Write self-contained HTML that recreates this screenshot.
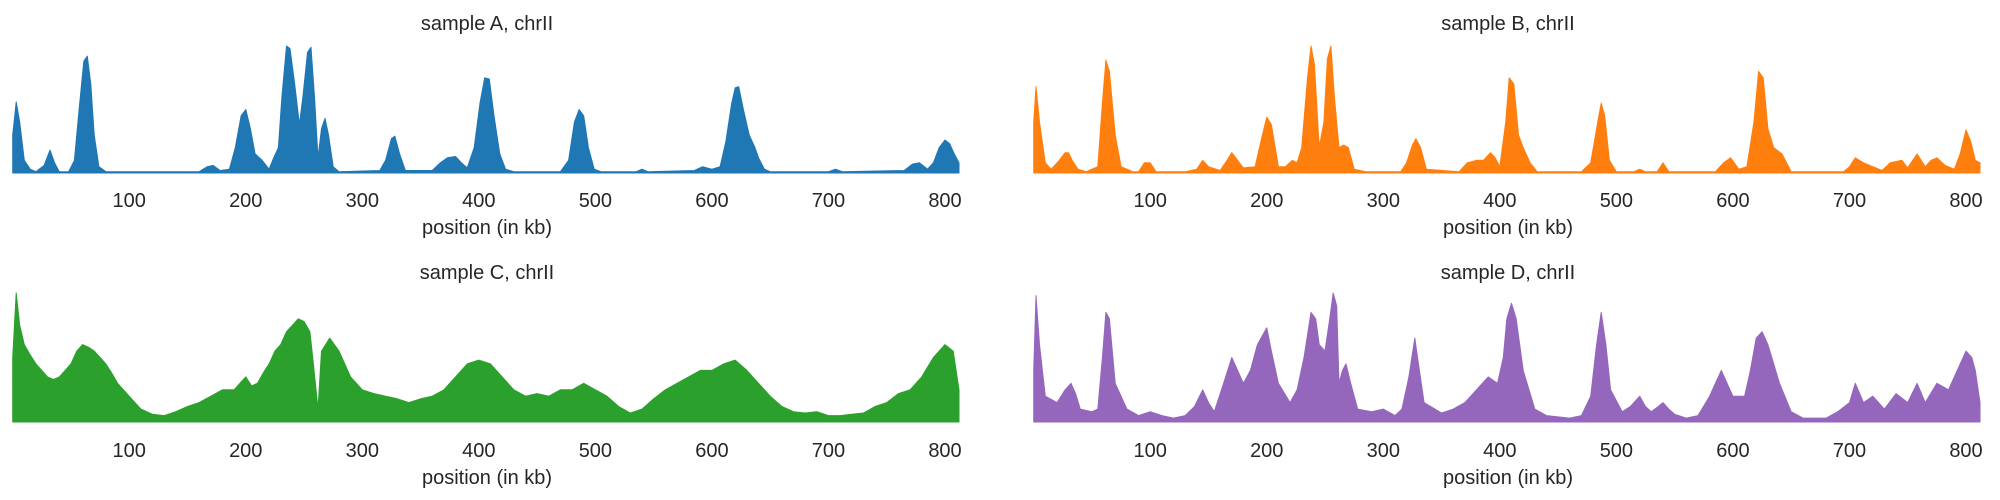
<!DOCTYPE html>
<html><head><meta charset="utf-8">
<style>
html,body{margin:0;padding:0;background:#fff;}
svg{display:block;font-family:"Liberation Sans",Arial,sans-serif;}
</style></head>
<body>
<svg id="chart" width="2000" height="500" viewBox="0 0 2000 500" xmlns="http://www.w3.org/2000/svg"></svg>
<script>
const tickValues = [100,200,300,400,500,600,700,800];
const panelTitles = ["sample A, chrII","sample B, chrII","sample C, chrII","sample D, chrII"];
const colors = ["#1f77b4","#ff7f0e","#2ca02c","#9467bd"];

const posA = [0,3,6,10,15,20,27,32,36,40,48,53,57,61,64,67,70,74,80,160,167,172,178,186,191,196,200,204,208,214,220,224,228,231,235,238,242,246,249,253,256,259,262,265,268,271,275,280,315,320,325,328,332,337,360,367,373,380,385,390,396,401,405,409,413,418,423,430,470,477,482,486,490,494,499,505,535,540,545,585,592,600,607,612,617,620,623,627,632,637,640,645,650,700,706,712,765,772,778,785,790,795,800,804,808,812];
const valA = [30,56,40,10,3,1,6,18,8,1,1,10,50,88,92,70,30,5,1,1,5,6,2,3,20,45,50,35,15,10,3,12,20,60,100,98,70,38,60,95,99,60,12,35,43,30,5,1,2,10,27,29,15,2,2,8,12,13,8,4,20,55,75,74,45,15,3,1,1,10,40,50,45,20,3,1,1,3,1,2,5,3,5,25,55,67,68,50,30,20,12,3,1,1,3,1,2,7,8,3,8,20,26,23,15,8];

const posB = [0,2,5,10,15,22,27,30,33,38,45,55,59,62,65,70,75,85,90,95,100,105,130,140,145,150,160,166,170,175,180,190,195,200,204,210,216,222,226,230,235,238,241,245,249,252,255,258,262,266,270,275,285,315,320,325,328,332,337,365,372,380,386,392,396,400,405,408,412,416,420,426,432,470,478,484,487,490,494,500,515,520,525,535,540,545,585,592,598,605,612,618,622,626,630,635,642,650,695,700,705,712,720,728,735,745,750,758,765,770,775,782,790,795,800,804,808,812];
const valB = [40,68,40,8,3,10,16,16,10,3,1,5,55,89,80,30,5,1,1,8,8,1,1,3,10,5,2,10,16,10,4,5,25,44,38,5,5,10,8,20,75,100,85,20,40,90,100,60,20,22,20,3,1,1,8,22,27,20,3,1,8,10,10,16,12,5,40,75,70,30,20,8,1,1,8,40,55,45,10,1,1,3,1,1,8,1,1,8,12,3,5,40,80,75,35,20,15,1,1,5,12,8,5,2,8,10,4,15,5,10,12,6,3,15,34,25,10,8];

const posC = [0,3,6,10,15,20,25,30,35,40,45,50,55,60,65,70,75,80,85,90,100,110,120,130,140,150,160,170,180,190,195,200,205,210,215,220,225,230,235,240,245,250,255,258,262,265,272,280,290,300,310,320,330,340,350,360,370,380,390,400,410,420,430,440,450,460,470,480,490,500,510,520,530,540,550,560,570,580,590,600,610,620,630,640,650,660,670,680,690,700,710,720,730,740,750,760,770,780,790,800,807,812];
const valC = [50,100,75,60,52,45,40,35,33,35,40,45,55,60,58,55,50,45,38,30,20,10,6,5,8,12,15,20,25,25,30,35,28,30,38,45,55,60,70,75,80,78,70,45,10,55,65,55,35,25,22,20,18,15,18,20,25,35,45,48,45,35,25,20,22,20,25,25,30,25,20,12,7,10,18,25,30,35,40,40,45,48,40,30,20,12,8,7,8,5,5,6,7,12,15,22,25,35,50,60,55,25];

const posD = [0,2,5,10,20,27,32,36,40,50,55,59,62,65,70,80,90,100,110,120,130,138,145,150,155,163,170,175,180,186,192,200,204,210,220,226,232,238,242,245,250,254,257,260,262,265,268,272,278,290,300,310,316,322,327,331,335,350,360,370,380,390,398,403,406,410,414,420,430,440,460,470,478,483,487,491,495,505,512,520,525,530,536,540,545,550,560,570,580,585,590,595,600,610,615,620,625,630,635,640,650,660,680,690,700,705,712,720,730,740,750,758,765,775,785,795,800,805,808,812];
const valD = [40,98,60,20,15,25,30,22,10,8,10,50,85,80,30,10,5,8,5,3,5,12,25,15,8,30,50,40,30,40,60,73,55,30,15,25,50,85,80,60,55,80,100,90,30,40,45,30,10,8,10,5,10,35,65,40,15,7,10,15,25,35,30,50,80,92,80,40,10,5,3,5,20,60,85,60,25,8,12,20,12,8,12,15,10,6,3,5,20,30,40,30,20,20,40,65,70,60,45,30,8,3,3,8,15,30,15,20,10,22,15,30,15,30,25,45,55,50,40,15];

const positions = [posA,posB,posC,posD];
const values = [valA,valB,valC,valD];

const NS = "http://www.w3.org/2000/svg";
const svg = document.getElementById("chart");
const panels = [
  {x0:15, x1:959, top:46, base:173, titleY:30, tickY:207, labelY:234},
  {x0:1036, x1:1980, top:46, base:173, titleY:30, tickY:207, labelY:234},
  {x0:15, x1:959, top:293, base:422, titleY:279, tickY:457, labelY:484},
  {x0:1036, x1:1980, top:293, base:422, titleY:279, tickY:457, labelY:484}
];
const kbMin = 2, kbMax = 812;
function mk(tag, attrs){ const e = document.createElementNS(NS, tag); for (const k in attrs) e.setAttribute(k, attrs[k]); return e; }

panels.forEach((p, i) => {
  const g = mk("g", {});
  
  
  svg.appendChild(g);
  const xs = kb => p.x0 + (kb - kbMin) / (kbMax - kbMin) * (p.x1 - p.x0);
  const ys = v => p.base - v / 100 * (p.base - p.top);

  const pos = positions[i], val = values[i];
  let d = "M" + xs(pos[0]).toFixed(1) + "," + p.base;
  for (let j = 0; j < pos.length; j++) d += " L" + xs(pos[j]).toFixed(1) + "," + ys(val[j]).toFixed(1);
  d += " L" + xs(pos[pos.length-1]).toFixed(1) + "," + p.base + " Z";
  const area = mk("path", {d: d, fill: colors[i], stroke: colors[i], "stroke-width": "1", "stroke-linejoin": "round"});
  
  
  g.appendChild(area);

  const title = mk("text", {x: (p.x0 + p.x1) / 2, y: p.titleY, "text-anchor": "middle", "font-size": "20", fill: "#262626"});
  title.textContent = panelTitles[i];
  
  
  g.appendChild(title);

  tickValues.forEach(t => {
    const tx = mk("text", {x: xs(t), y: p.tickY, "text-anchor": "middle", "font-size": "20", fill: "#262626"});
    tx.textContent = t;
    
    
    g.appendChild(tx);
  });

  const xl = mk("text", {x: (p.x0 + p.x1) / 2, y: p.labelY, "text-anchor": "middle", "font-size": "20", fill: "#262626"});
  xl.textContent = "position (in kb)";
  
  
  g.appendChild(xl);
});
</script>
</body></html>
